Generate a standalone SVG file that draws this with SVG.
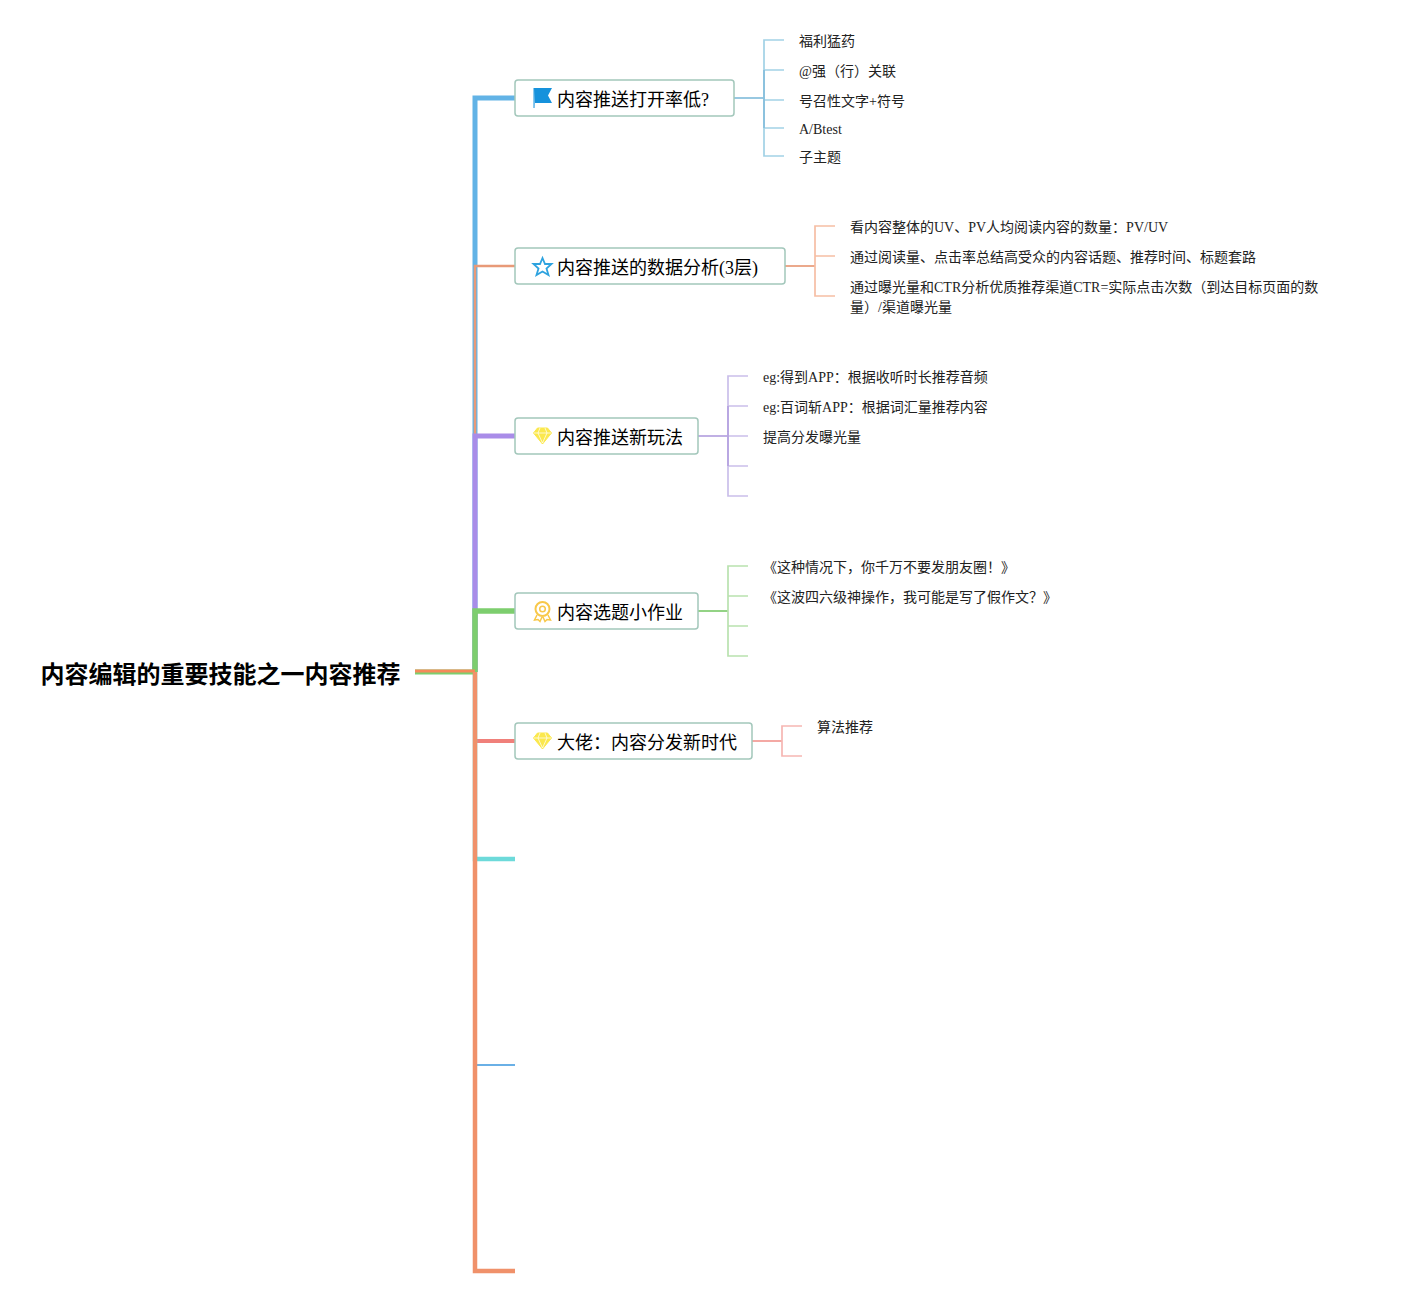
<svg xmlns="http://www.w3.org/2000/svg" width="1410" height="1296" viewBox="0 0 1410 1296">
<style>
text{font-family:"Liberation Serif","Noto Sans CJK SC",serif;fill:#111}
.r{font-family:"Noto Sans CJK SC","Liberation Sans",sans-serif;font-size:24px;font-weight:700;fill:#000}
.t{font-size:18px;fill:#000}
.c{font-size:14px;fill:#222}
.box{fill:#fff;stroke:#a3c7bb;stroke-width:1.5}
path{fill:none;stroke-linejoin:miter}
circle{fill:none}
.b1{stroke:#a2d2e6;stroke-width:1.7}.b1m{stroke:#86bfdc;stroke-width:1.7}
.b2{stroke:#f6bea4;stroke-width:1.7}.b2m{stroke:#e89a78;stroke-width:1.7}
.b3{stroke:#cabfea;stroke-width:1.7}.b3m{stroke:#b5a2e0;stroke-width:1.7}
.b4{stroke:#b9e2af;stroke-width:1.7}.b4m{stroke:#80cc70;stroke-width:1.7}
.b5{stroke:#f6b6b2;stroke-width:1.7}.b5m{stroke:#f29a94;stroke-width:1.7}
</style>
<g id="connectors">
<path d="M475 672V98H515" stroke="#62b3e6" stroke-width="5"/>
<path d="M475 672V266H515" stroke="#e89a78" stroke-width="2.500"/>
<path d="M475 672V436H515" stroke="#a98ce8" stroke-width="5"/>
<path d="M475 672V611H515" stroke="#7dce6e" stroke-width="5.500"/>
<path d="M475 672V741H515" stroke="#f0807a" stroke-width="4"/>
<path d="M475 672V859H515" stroke="#6ddada" stroke-width="4.500"/>
<path d="M475 672V1065H515" stroke="#6ab0e6" stroke-width="2"/>
<path d="M415 672H475" stroke="#7dce6e" stroke-width="5"/>
<path d="M415 671H475" stroke="#f58a5a" stroke-width="3"/>
<path d="M475 672V1271H515" stroke="#f0916a" stroke-width="4.500"/>

<path class="b1m" d="M734 98H764"/>
<path class="b1" d="M784 40H764V156H784M764 70H784M764 100H784M764 128H784"/>
<path class="b1m" d="M764 70V128"/>
<path class="b2m" d="M785 266H815"/>
<path class="b2" d="M835 226H815V296H835M815 256H835"/>
<path class="b3m" d="M698 436H728"/>
<path class="b3" d="M748 376H728V496H748M728 406H748M728 436H748M728 466H748"/>
<path class="b3m" d="M728 406V466"/>
<path class="b4m" d="M698 611H728"/>
<path class="b4" d="M748 566H728V656H748M728 596H748M728 626H748"/>
<path class="b5m" d="M752 741H782"/>
<path class="b5" d="M802 726H782V756H802"/>
</g>
<g id="root"><text class="r" x="40.500" y="683">内容编辑的重要技能之一内容推荐</text></g>
<g id="n1"><rect class="box" x="515" y="80" width="219" height="36" rx="3"/>
<path d="M534 88H552L548 95.500L552 103H535V108" style="fill:#1692dc" stroke="none"/><path d="M534 88V108" stroke="#1692dc" stroke-width="1"/>
<text class="t" x="557" y="105.500">内容推送打开率低?</text></g>
<g id="n2"><rect class="box" x="515" y="248" width="270" height="36" rx="3"/>
<path d="M542.500 258L545 264H551.500L546.500 268.500L548.500 275L542.500 271.500L536.500 275L538.500 268.500L533.500 264H540Z" stroke="#2ea3df" stroke-width="1.800"/>
<text class="t" x="557" y="273.500">内容推送的数据分析(3层)</text></g>
<g id="n3"><rect class="box" x="515" y="418" width="183" height="36" rx="3"/>
<path d="M537.500 428H547.500L551.500 433L542.500 444L533.500 433Z" style="fill:#fbe84d" stroke="#fbe84d"/><path d="M534 433H551M538 433L542.500 443L547 433M540 428L538 433M545 428L547 433" stroke="#fff" stroke-width=".7"/>
<text class="t" x="557" y="443.500">内容推送新玩法</text></g>
<g id="n4"><rect class="box" x="515" y="593" width="183" height="36" rx="3"/>
<circle cx="542.500" cy="609" r="7" stroke="#f8c84a" stroke-width="2"/><circle cx="542.500" cy="609" r="2.800" stroke="#f8c84a" stroke-width="1.500"/>
<path d="M537 615L534.500 620L538 619.500L540 621.500L542 617M548 615L550.500 620L547 619.500L545 621.500L543 617" stroke="#f8c84a" stroke-width="1.500"/>
<text class="t" x="557" y="618.500">内容选题小作业</text></g>
<g id="n5"><rect class="box" x="515" y="723" width="237" height="36" rx="3"/>
<path d="M537.500 733H547.500L551.500 738L542.500 749L533.500 738Z" style="fill:#fbe84d" stroke="#fbe84d"/><path d="M534 738H551M538 738L542.500 748L547 738M540 733L538 738M545 733L547 738" stroke="#fff" stroke-width=".7"/>
<text class="t" x="557" y="748.500">大佬：内容分发新时代</text></g>
<g id="c1">
<text class="c" x="799" y="46">福利猛药</text>
<text class="c" x="799" y="76">@强（行）关联</text>
<text class="c" x="799" y="106">号召性文字+符号</text>
<text class="c" x="799" y="134">A/Btest</text>
<text class="c" x="799" y="162">子主题</text></g>
<g id="c2">
<text class="c" x="850" y="232">看内容整体的UV、PV人均阅读内容的数量：PV/UV</text>
<text class="c" x="850" y="262">通过阅读量、点击率总结高受众的内容话题、推荐时间、标题套路</text>
<text class="c" x="850" y="292">通过曝光量和CTR分析优质推荐渠道CTR=实际点击次数（到达目标页面的数</text>
<text class="c" x="850" y="312">量）/渠道曝光量</text></g>
<g id="c3">
<text class="c" x="763" y="382">eg:得到APP：根据收听时长推荐音频</text>
<text class="c" x="763" y="412">eg:百词斩APP：根据词汇量推荐内容</text>
<text class="c" x="763" y="442">提高分发曝光量</text></g>
<g id="c4">
<text class="c" x="763" y="572">《这种情况下，你千万不要发朋友圈！》</text>
<text class="c" x="763" y="602">《这波四六级神操作，我可能是写了假作文？》</text></g>
<g id="c5"><text class="c" x="817" y="732">算法推荐</text></g>
</svg>
